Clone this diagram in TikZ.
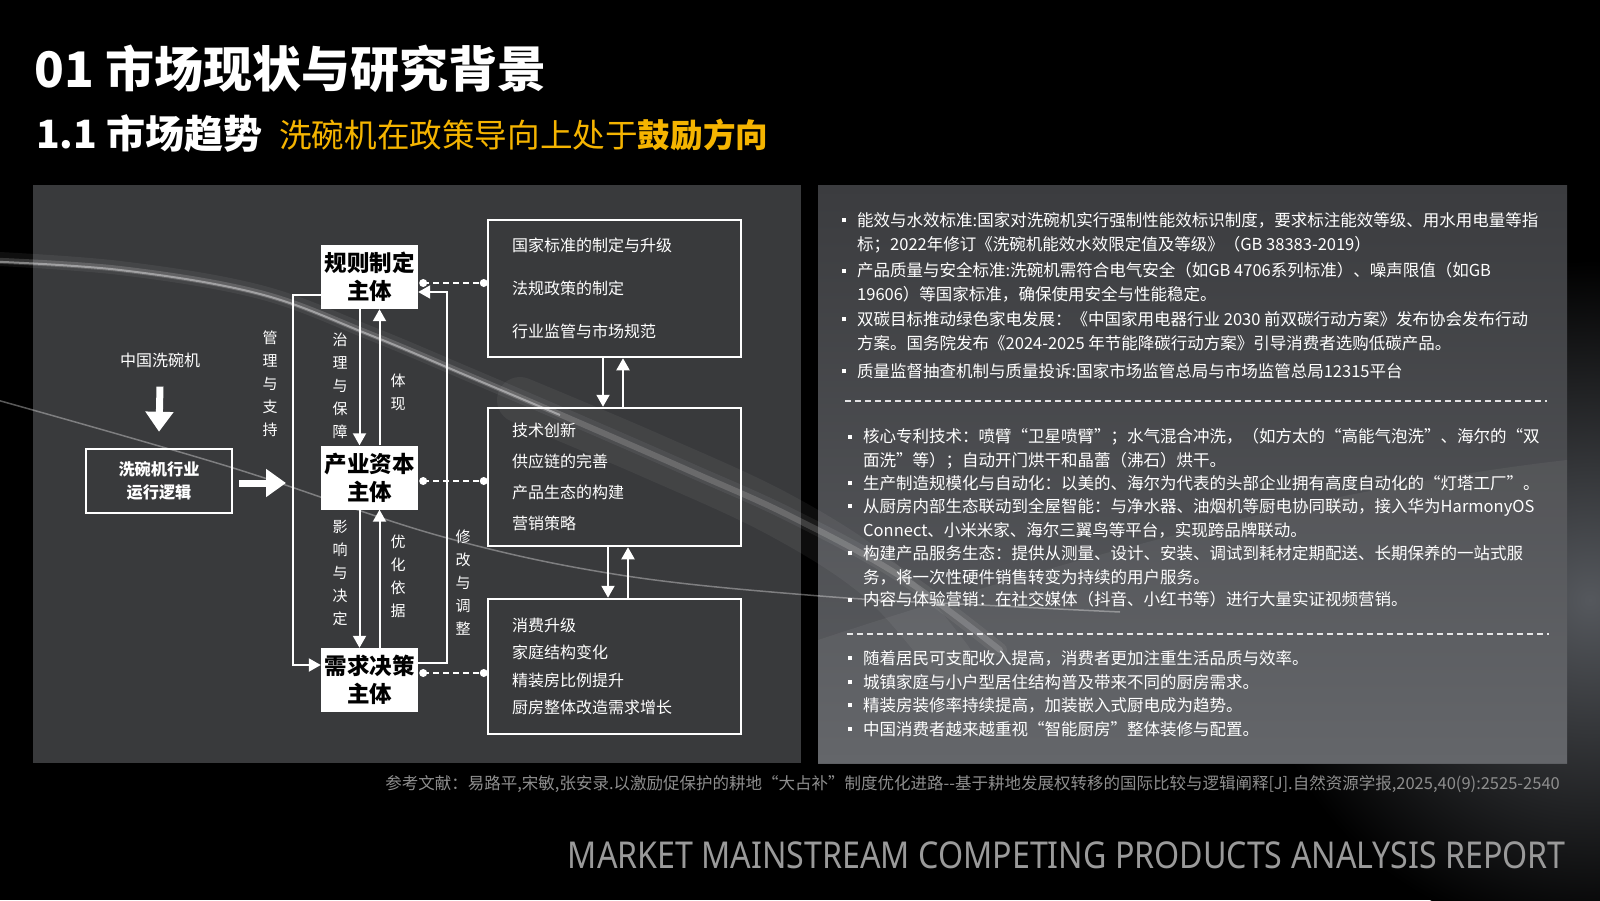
\documentclass[tikz,border=0pt]{standalone}
\usepackage{fontspec}
\setmainfont{Noto Sans CJK SC}
\newfontfamily\footfont[FakeStretch=0.87]{Noto Sans}
\usetikzlibrary{calc, arrows.meta}

\definecolor{panelL}{HTML}{393A3C}
\definecolor{panelTop}{HTML}{3B3C3F}
\definecolor{panelMid}{HTML}{6E7074}
\definecolor{panelBot}{HTML}{5C5E62}
\definecolor{glowgray}{HTML}{55585D}
\definecolor{hlyellow}{HTML}{F5B400}
\definecolor{refgray}{HTML}{8E8E8E}
\definecolor{footgray}{HTML}{9A9A9A}

\newcommand\blt{\makebox[15pt][l]{\rule[4.3pt]{4pt}{4pt}}}
\newcommand\cnt{\hspace*{15pt}}

\begin{document}
\begin{tikzpicture}[x=1pt, y=-1pt,
  subj/.style={fill=white, text=black, inner sep=0pt, minimum width=97pt,
    minimum height=64pt, align=center, font=\fontsize{22.5}{28}\selectfont\bfseries},
  logicbox/.style={draw=white, line width=2.5pt, text=white, inner sep=0pt,
    minimum width=146pt, minimum height=64pt, align=center,
    font=\fontsize{16.2}{23}\selectfont\bfseries},
  infobox/.style={draw=white, line width=2.5pt, text=white, inner xsep=24pt,
    inner ysep=0pt, text width=205pt, align=left},
  vlabel/.style={text=white, inner sep=0pt, align=center, font=\fontsize{15}{23}\selectfont},
  para/.style={anchor=north west, inner sep=0pt, text=white, align=left},
  arr/.style={white, line width=2pt, -{Triangle[width=13pt,length=12pt]}},
  bigarr/.style={white, line width=7pt, -{Triangle[width=27pt,length=20pt]}},
  dashline/.style={white, line width=1.5pt, dash pattern=on 6pt off 4pt},
  sepline/.style={white, line width=1.3pt, dash pattern=on 6pt off 4pt, opacity=0.85}]

  \useasboundingbox (0,0) rectangle (1600,900);
  \fill[black] (0,0) rectangle (1600,900);
  \shade[inner color=glowgray, outer color=black] (1590,600) circle (340pt);

  % panels
  \fill[panelL] (33,185) rectangle (801,763);
  \shade[top color=panelTop, middle color=panelMid, bottom color=panelBot] (818,185) rectangle (1567,763);

  % light streaks
  \draw[white, line width=14pt, opacity=0.06, line cap=round] plot[smooth, tension=0.6]
    coordinates {(-20,258) (120,268) (260,292) (370,333) (470,375) (580,422) (690,470) (790,515) (900,575) (1000,650)};
  \draw[white, line width=6pt, opacity=0.16, line cap=round] plot[smooth, tension=0.6]
    coordinates {(-20,260) (120,269) (260,293) (370,334) (470,376) (580,423) (690,471) (790,516) (900,576) (1000,650)};
  \draw[white, line width=2pt, opacity=0.40] plot[smooth, tension=0.6]
    coordinates {(-20,261) (120,270) (260,294) (370,335) (470,377) (560,415)};
  \draw[white, line width=46pt, opacity=0.05, line cap=round] plot[smooth, tension=0.6]
    coordinates {(520,400) (650,455) (780,515) (880,580) (950,660)};
  \draw[white, line width=1.5pt, opacity=0.35] plot[smooth, tension=0.6]
    coordinates {(-10,398) (230,467) (440,536) (620,575) (820,596) (1000,606) (1120,612)};
  \fill[white, opacity=0.05] (818,640) .. controls (1000,580) and (1300,490) .. (1567,460) -- (1567,763) -- (818,763) -- cycle;

  % titles
  \node[anchor=west, inner sep=0pt, text=white, font=\fontsize{49}{54}\selectfont\bfseries]
    (ttl) at (34,69) {01 市场现状与研究背景};
  \node[anchor=west, inner sep=0pt, text=white, font=\fontsize{39}{42}\selectfont\bfseries]
    (sub) at (36,134) {1.1 市场趋势};
  \node[anchor=west, inner sep=0pt, text=hlyellow, font=\fontsize{32.6}{36}\selectfont]
    (subhl) at (279,135) {洗碗机在政策导向上处于\textbf{鼓励方向}};

  % left diagram
  \node[text=white, inner sep=0pt, font=\fontsize{16}{20}\selectfont] (cn) at (160,360) {中国洗碗机};
  \node[logicbox] (logic) at (159,481) {洗碗机行业\\运行逻辑};
  \node[subj] (rule) at (369.5,277) {规则制定\\主体};
  \node[subj] (cap) at (369.5,477.5) {产业资本\\主体};
  \node[subj] (need) at (369.5,680) {需求决策\\主体};

  \node[infobox, minimum height=137pt, font=\fontsize{16}{43}\selectfont] (std) at (614.5,288.5)
    {国家标准的制定与升级\\法规政策的制定\\行业监管与市场规范};
  \node[infobox, minimum height=138pt, font=\fontsize{16}{31}\selectfont] (firm) at (614.5,477)
    {技术创新\\供应链的完善\\产品生态的构建\\营销策略};
  \node[infobox, minimum height=135pt, font=\fontsize{16}{27.5}\selectfont] (cons) at (614.5,666.5)
    {消费升级\\家庭结构变化\\精装房比例提升\\厨房整体改造需求增长};

  \node[vlabel] (lbmgr) at (270,384) {管\\理\\与\\支\\持};
  \node[vlabel] (lbgov) at (340,386) {治\\理\\与\\保\\障};
  \node[vlabel] (lbrep) at (398,392) {体\\现};
  \node[vlabel] (lbinf) at (340,573) {影\\响\\与\\决\\定};
  \node[vlabel] (lbopt) at (398,576) {优\\化\\依\\据};
  \node[vlabel] (lbadj) at (463,583) {修\\改\\与\\调\\整};

  \coordinate (gate) at (286,483);
  \draw[bigarr] ([yshift=-19pt]cn.south) -- ([yshift=16pt]logic.north);
  \draw[bigarr] ([xshift=6pt]logic.east |- gate) -- (gate);

  \draw[arr] ([xshift=-10pt]rule.south) -- ([xshift=-10pt]cap.north);
  \draw[arr] ([xshift=10pt]cap.north) -- ([xshift=10pt]rule.south);
  \draw[arr] ([xshift=-10pt]cap.south) -- ([xshift=-10pt]need.north);
  \draw[arr] ([xshift=10pt]need.north) -- ([xshift=10pt]cap.south);

  \draw[arr] ([yshift=-18pt]rule.west) -- ++(-28,0) |- ([yshift=15pt]need.west);
  \draw[arr] ([yshift=17pt]need.east) -- ++(29,0) |- ([yshift=-15pt]rule.east);

  \draw[arr] ([xshift=-11.5pt]std.south) -- ([xshift=-11.5pt]firm.north);
  \draw[arr] ([xshift=8.5pt]firm.north) -- ([xshift=8.5pt]std.south);
  \draw[arr] ([xshift=-6.5pt]firm.south) -- ([xshift=-6.5pt]cons.north);
  \draw[arr] ([xshift=13.5pt]cons.north) -- ([xshift=13.5pt]firm.south);

  \draw[dashline] ([shift={(5,6)}]rule.east) coordinate (ra) -- ([xshift=-3pt]ra -| std.west) coordinate (rb);
  \draw[dashline] ([shift={(5,3.5)}]cap.east) coordinate (ca) -- ([xshift=-3pt]ca -| firm.west) coordinate (cb);
  \draw[dashline] ([shift={(5,-7)}]need.east) coordinate (na) -- ([xshift=-3pt]na -| cons.west) coordinate (nb);
  \fill[white] (ra) circle (4pt) (rb) circle (4pt) (ca) circle (4pt) (cb) circle (4pt) (na) circle (4pt) (nb) circle (4pt);

  % right panel text
  \begin{scope}[every node/.style={para, font=\fontsize{16.5}{24}\selectfont}]
    \node (s1a) at (842,212.5) {\blt 能效与水效标准:国家对洗碗机实行强制性能效标识制度，要求标注能效等级、用水用电量等指\\\cnt 标；2022年修订《洗碗机能效水效限定值及等级》（GB 38383-2019）};
    \node (s1b) at (842,262.5) {\blt 产品质量与安全标准:洗碗机需符合电气安全（如GB 4706系列标准）、噪声限值（如GB\\\cnt 19606）等国家标准，确保使用安全与性能稳定。};
    \node (s1c) at (842,311.5) {\blt 双碳目标推动绿色家电发展：《中国家用电器行业 2030 前双碳行动方案》发布协会发布行动\\\cnt 方案。国务院发布《2024-2025 年节能降碳行动方案》引导消费者选购低碳产品。};
    \node (s1d) at (842,363.5) {\blt 质量监督抽查机制与质量投诉:国家市场监管总局与市场监管总局12315平台};
  \end{scope}
  \draw[sepline] (845,401) -- (1547,401);
  \begin{scope}[every node/.style={para, font=\fontsize{16.5}{23.3}\selectfont}]
    \node (s2a) at (848,428.5) {\blt 核心专利技术：喷臂“卫星喷臂”；水气混合冲洗，（如方太的“高能气泡洗”、海尔的“双\\\cnt 面洗”等）；自动开门烘干和晶蕾（沸石）烘干。};
    \node (s2b) at (848,475.5) {\blt 生产制造规模化与自动化：以美的、海尔为代表的头部企业拥有高度自动化的“灯塔工厂”。};
    \node (s2c) at (848,498.5) {\blt 从厨房内部生态联动到全屋智能：与净水器、油烟机等厨电协同联动，接入华为HarmonyOS\\\cnt Connect、小米米家、海尔三翼鸟等平台，实现跨品牌联动。};
    \node (s2d) at (848,545.5) {\blt 构建产品服务生态：提供从测量、设计、安装、调试到耗材定期配送、长期保养的一站式服\\\cnt 务，将一次性硬件销售转变为持续的用户服务。};
    \node (s2e) at (848,591.5) {\blt 内容与体验营销：在社交媒体（抖音、小红书等）进行大量实证视频营销。};
  \end{scope}
  \draw[sepline] (847,634) -- (1549,634);
  \begin{scope}[every node/.style={para, font=\fontsize{16.5}{23.3}\selectfont}]
    \node (s3a) at (848,650.5) {\blt 随着居民可支配收入提高，消费者更加注重生活品质与效率。};
    \node (s3b) at (848,674.5) {\blt 城镇家庭与小户型居住结构普及带来不同的厨房需求。};
    \node (s3c) at (848,697.5) {\blt 精装房装修率持续提高，加装嵌入式厨电成为趋势。};
    \node (s3d) at (848,721.5) {\blt 中国消费者越来越重视“智能厨房”整体装修与配置。};
  \end{scope}

  % footer
  \node[anchor=east, inner sep=0pt, text=refgray, font=\fontsize{16.5}{18}\selectfont] (ref) at (1560,784)
    {参考文献：易路平,宋敏,张安录.以激励促保护的耕地“大占补”制度优化进路{-}{-}基于耕地发展权转移的国际比较与逻辑阐释[J].自然资源学报,2025,40(9):2525-2540};
  \node[anchor=east, inner sep=0pt, text=footgray, font=\footfont\fontsize{37}{40}\selectfont] (foot) at (1566,855)
    {MARKET MAINSTREAM COMPETING PRODUCTS ANALYSIS REPORT};
\end{tikzpicture}
\end{document}
